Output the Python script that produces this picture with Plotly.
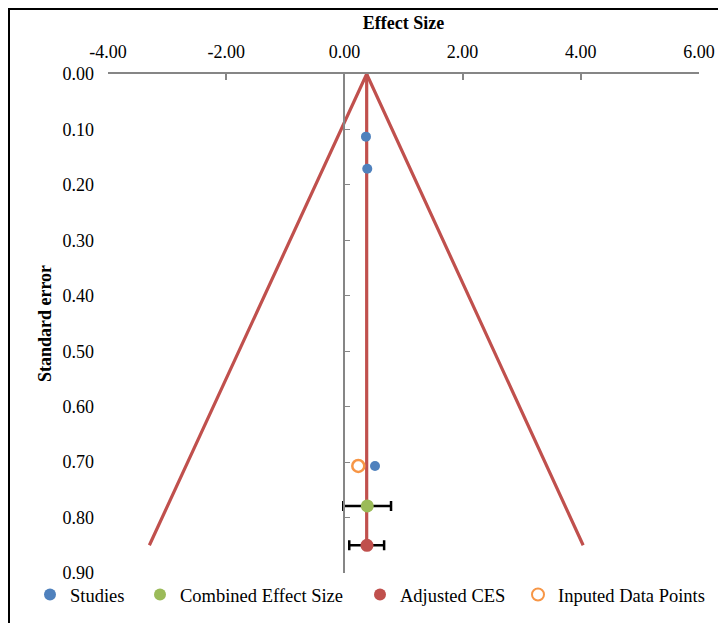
import plotly.graph_objects as go

# Data
studies_es = [0.365, 0.387, 0.518]
studies_se = [0.113, 0.171, 0.707]

combined_es = [0.387]
combined_se = [0.779]
combined_lo = [0.406]
combined_hi = [0.402]

adjusted_es = [0.382]
adjusted_se = [0.850]
adjusted_lo = [0.30]
adjusted_hi = [0.29]

imputed_es = [0.235]
imputed_se = [0.707]

funnel_x = [-3.30, 0.377, 4.04]
funnel_y = [0.85, 0.0, 0.85]
center_x = [0.377, 0.377]
center_y = [0.0, 0.85]

x_ticks = [-4, -2, 0, 2, 4, 6]
x_labels = ["-4.00", "-2.00", "0.00", "2.00", "4.00", "6.00"]
y_ticks = [0.0, 0.1, 0.2, 0.3, 0.4, 0.5, 0.6, 0.7, 0.8, 0.9]

RED = "#C0504D"
BLUE = "#4F81BD"
GREEN = "#9BBB59"
ORANGE = "#F79646"
GRAY = "#868686"
FONT = "Liberation Serif"

# the page adds an 8px body margin, so the figure is drawn 8px smaller
W, H = 718, 615
L, R, T, B = 100, 27, 66, 50
PW = W - L - R
PH = H - T - B


def px_x(p):
    return (p - L) / PW


def px_y(p):
    return (H - B - p) / PH


fig = go.Figure()
fig.add_trace(go.Scatter(x=funnel_x, y=funnel_y, mode="lines",
                         line=dict(color=RED, width=3.2), showlegend=False, hoverinfo="skip"))
fig.add_trace(go.Scatter(x=center_x, y=center_y, mode="lines",
                         line=dict(color=RED, width=3.2), showlegend=False, hoverinfo="skip"))
fig.add_trace(go.Scatter(x=studies_es, y=studies_se, mode="markers", name="Studies",
                         marker=dict(color=BLUE, size=10), legend="legend"))
fig.add_trace(go.Scatter(x=combined_es, y=combined_se, mode="markers", name="Combined Effect Size",
                         marker=dict(color=GREEN, size=13), legend="legend2",
                         error_x=dict(type="data", array=combined_hi, arrayminus=combined_lo,
                                      color="black", thickness=2.5, width=5)))
fig.add_trace(go.Scatter(x=adjusted_es, y=adjusted_se, mode="markers", name="Adjusted CES",
                         marker=dict(color=RED, size=13), legend="legend3",
                         error_x=dict(type="data", array=adjusted_hi, arrayminus=adjusted_lo,
                                      color="black", thickness=2.5, width=5)))
fig.add_trace(go.Scatter(x=imputed_es, y=imputed_se, mode="markers", name="Inputed Data Points",
                         marker=dict(color="white", size=12, line=dict(color=ORANGE, width=2.5)),
                         legend="legend4"))
# invisible trace for the axis drawn at x = 0
fig.add_trace(go.Scatter(x=[0], y=[0], yaxis="y2", mode="markers",
                         marker=dict(opacity=0), showlegend=False, hoverinfo="skip"))

leg_common = dict(orientation="h", xanchor="left", yanchor="middle", y=px_y(587),
                  font=dict(size=18.5), itemsizing="constant", bgcolor="rgba(0,0,0,0)",
                  itemwidth=30)

fig.update_layout(
    width=W, height=H,
    margin=dict(l=L, r=R, t=T, b=B, autoexpand=False),
    plot_bgcolor="white", paper_bgcolor="white",
    font=dict(family=FONT, size=18, color="black"),
    xaxis=dict(range=[-4, 6], side="top", tickvals=x_ticks, ticktext=x_labels,
               showline=True, linecolor=GRAY, linewidth=2, ticks="inside", ticklen=6,
               tickcolor=GRAY, tickwidth=1.5, showgrid=False, zeroline=False,
               ticklabelstandoff=7, automargin=False,
               title=dict(text="<b>Effect Size</b>", font=dict(size=18), standoff=7),
               anchor="y"),
    yaxis=dict(range=[0.9, 0], tickvals=y_ticks, tickformat=".2f", showgrid=False,
               zeroline=False, showline=False, ticks="", ticklabelstandoff=13,
               automargin=False,
               title=dict(text="<b>Standard error</b>", font=dict(size=18), standoff=6)),
    yaxis2=dict(range=[0.9, 0], overlaying="y", anchor="free", position=0.4, side="left",
                tickvals=y_ticks, showticklabels=False, showline=True, linecolor=GRAY,
                linewidth=1.7, ticks="inside", ticklen=5, tickcolor=GRAY, showgrid=False,
                zeroline=False, automargin=False),
    legend=dict(x=px_x(22), **leg_common),
    legend2=dict(x=px_x(132), **leg_common),
    legend3=dict(x=px_x(352), **leg_common),
    legend4=dict(x=px_x(510), **leg_common),
    shapes=[dict(type="rect", xref="paper", yref="paper",
                 x0=px_x(1), x1=px_x(W + 20),
                 y0=px_y(H + 20), y1=px_y(1),
                 line=dict(color="black", width=2), fillcolor="rgba(0,0,0,0)", layer="above")],
)

fig.write_html("out.html")
